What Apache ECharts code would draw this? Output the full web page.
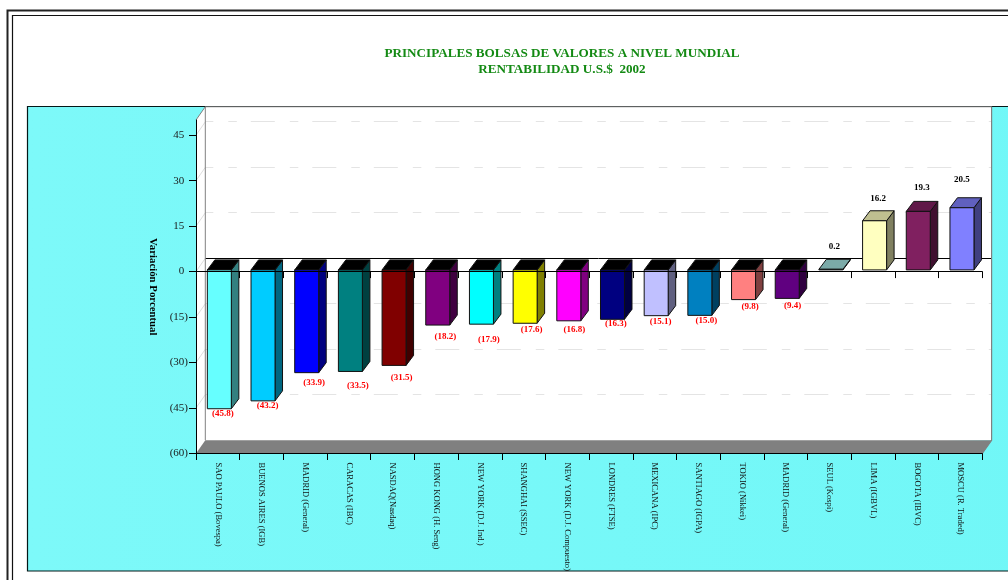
<!DOCTYPE html>
<html>
<head>
<meta charset="utf-8">
<style>html,body{margin:0;padding:0;background:#fff;overflow:hidden}#c{width:1008px;height:580px}</style>
<script src="https://cdn.jsdelivr.net/npm/echarts@6/dist/echarts.min.js"></script>
</head>
<body>
<div id="c"></div>
<script>
const categories = ['SAO PAULO (Bovespa)','BUENOS AIRES (IGB)','MADRID (General)','CARACAS (IBC)','NASDAQ(Nasdaq)','HONG KONG (H. Seng)','NEW YORK (D.J. Ind.)','SHANGHAI (SSEC)','NEW YORK (D.J. Compuesto)','LONDRES (FTSE)','MEXICANA (IPC)','SANTIAGO (IGPA)','TOKIO (Nikkei)','MADRID (General)','SEUL (Kospi)','LIMA (IGBVL)','BOGOTA (IBVC)','MOSCU (R. Traded)'];
const values = [-45.8,-43.2,-33.9,-33.5,-31.5,-18.2,-17.9,-17.6,-16.8,-16.3,-15.1,-15.0,-9.8,-9.4,0.2,16.2,19.3,20.5];
const barColors = ['#66FFFF','#00CCFF','#0000FF','#008080','#800000','#800080','#00FFFF','#FFFF00','#FF00FF','#000080','#C0C0FF','#0080C0','#FF8080','#600080','#A4E2E0','#FFFFC0','#802060','#8080FF'];
const yTicks = [-60,-45,-30,-15,0,15,30,45];
const labelShiftX = [5,6,9,9,9,9,9,8,7,5,6,8,8,7,5,5,5,1.5];
const labelShiftY = [3.5,3.4,8.6,12.8,10.9,10.2,14.1,5,7.4,2.9,4.5,3.8,5.6,5.8,-24,-23.6,-25,-29.6];

const DX = 9.3, DY = -13.3, BAR_W = 24, BAR_DX = 7.5, BAR_DY = -10, OFF_X = 1.5, OFF_Y = -1.7;
const SERIF = '"Liberation Serif","Times New Roman",serif';

function shade(hex, k) {
  const n = parseInt(hex.slice(1), 16);
  const c = [(n >> 16) & 255, (n >> 8) & 255, n & 255].map(v => Math.round(v * k));
  return 'rgb(' + c.join(',') + ')';
}
const fmt = v => v < 0 ? '(' + Math.abs(v).toFixed(1) + ')' : v.toFixed(1);

function renderWall(params, api) {
  const g = params.coordSys;
  const L = g.x, R = g.x + g.width, T = g.y, B = g.y + g.height;
  const kids = [];
  kids.push({type:'polygon', shape:{points:[[L,T],[L+DX,T+DY],[R+DX,T+DY],[R+DX,B+DY],[L,B]]}, style:{fill:'#fff'}});
  kids.push({type:'polygon', shape:{points:[[L+DX,B+DY],[R+DX,B+DY],[R,B],[L,B]]}, style:{fill:'#808080'}});
  yTicks.forEach(v => {
    if (v === -60) return;
    const y = api.coord([0, v])[1];
    const yb = Math.floor(y + DY) + 0.5;
    kids.push({type:'line', shape:{x1:L, y1:y, x2:L+DX, y2:y+DY}, style:{stroke:'#dddddd', lineWidth:1}});
    if (v === 0) {
      kids.push({type:'line', shape:{x1:L+DX, y1:yb, x2:R+DX, y2:yb}, style:{stroke:'#000', lineWidth:1}});
    } else {
      kids.push({type:'line', shape:{x1:L+DX, y1:yb, x2:R+DX, y2:yb}, style:{stroke:'#e4e4e4', lineWidth:1, lineDash:[24,15,8.5,14], lineDashOffset:16}});
    }
  });
  kids.push({type:'polyline', shape:{points:[[L,T],[L+DX,T+DY],[L+DX,B+DY]]}, style:{stroke:'#808080', fill:'none', lineWidth:1}});
  kids.push({type:'line', shape:{x1:L+DX, y1:T+DY, x2:R+DX, y2:T+DY}, style:{stroke:'#666', lineWidth:1}});
  kids.push({type:'polyline', shape:{points:[[R+DX,T+DY],[R+DX,B+DY],[R,B]]}, style:{stroke:'#808080', fill:'none', lineWidth:1.2}});
  return {type:'group', children:kids};
}

function renderBar(params, api) {
  const i = api.value(0), v = api.value(1);
  const base = api.coord([i, 0]), tip = api.coord([i, v]);
  const x0 = base[0] + OFF_X - BAR_W / 2, x1 = x0 + BAR_W;
  const yBase = base[1] + OFF_Y, yTip = tip[1] + OFF_Y;
  const top = Math.min(yBase, yTip), bot = Math.max(yBase, yTip);
  const col = barColors[i];
  const line = {stroke:'#111', lineWidth:1, lineJoin:'round'};
  const capFill = v < 0 ? '#000' : shade(col, 0.75);
  const kids = [
    {type:'polygon', shape:{points:[[x1,top],[x1+BAR_DX,top+BAR_DY],[x1+BAR_DX,bot+BAR_DY],[x1,bot]]}, style:Object.assign({fill:shade(col,0.5)}, line)},
    {type:'polygon', shape:{points:[[x0,top],[x0+BAR_DX,top+BAR_DY],[x1+BAR_DX,top+BAR_DY],[x1,top]]}, style:Object.assign({fill:capFill}, line)},
    {type:'rect', shape:{x:x0, y:top, width:BAR_W, height:bot-top}, style:Object.assign({fill:col}, line)},
    {type:'text', x:base[0]+labelShiftX[i], y:tip[1]+labelShiftY[i], style:{text:fmt(v), fill:v<0?'#ff0000':'#000', font:'bold 9px '+SERIF, align:'center', verticalAlign:'middle'}}
  ];
  return {type:'group', children:kids};
}

const chart = echarts.init(document.getElementById('c'), null, {renderer:'canvas'});
chart.setOption({
  animation:false,
  backgroundColor:'#fff',
  title:{
    text:'PRINCIPALES BOLSAS DE VALORES A NIVEL MUNDIAL\nRENTABILIDAD U.S.$  2002',
    left:557, top:41, textAlign:'center',
    textStyle:{color:'#148A14', fontFamily:SERIF, fontSize:13.15, fontWeight:'bold', lineHeight:16}
  },
  graphic:[
    {type:'rect', z:-5, shape:{x:7.5,y:10.5,width:1100,height:700}, style:{fill:'#fff',stroke:'#222',lineWidth:2}},
    {type:'rect', z:-4, shape:{x:12.5,y:15.5,width:1100,height:700}, style:{fill:'#fff',stroke:'#111',lineWidth:1.2}},
    {type:'rect', z:-3, shape:{x:27.5,y:106.5,width:1100,height:464.5},
      style:{stroke:'#041818',lineWidth:1.2,fill:new echarts.graphic.LinearGradient(0,0,1,0,[{offset:0,color:'#7DF9F9'},{offset:1,color:'#70F7F7'}])}}
  ],
  grid:{left:196, right:25.7, top:120, bottom:126.5, containLabel:false},
  xAxis:[
    {type:'category', data:categories, position:'bottom', z:4,
      axisLine:{onZero:false, lineStyle:{color:'#000',width:1}},
      axisTick:{show:true, interval:0, length:6.5, lineStyle:{color:'#000'}},
      axisLabel:{interval:0, rotate:-90, margin:9, color:'#111', fontFamily:SERIF, fontSize:8.55, hideOverlap:false},
      splitLine:{show:false}},
    {type:'category', data:categories, position:'bottom', z:4,
      axisLine:{onZero:true, lineStyle:{color:'#000',width:1}},
      axisTick:{show:true, interval:0, length:6.5, lineStyle:{color:'#000'}},
      axisLabel:{show:false, interval:0}, splitLine:{show:false}}
  ],
  yAxis:{
    type:'value', min:-60, max:50, z:4,
    name:'Variación Porcentual', nameLocation:'middle', nameRotate:-90, nameGap:33,
    nameTextStyle:{color:'#000', fontFamily:SERIF, fontSize:10.8, fontWeight:'bold'},
    axisLine:{show:true, onZero:false, lineStyle:{color:'#000',width:1}},
    axisTick:{show:true, length:7, customValues:yTicks, lineStyle:{color:'#000'}},
    axisLabel:{margin:8, color:'#1a1a1a', fontFamily:SERIF, fontSize:11, customValues:yTicks,
      formatter:v => v < 0 ? '(' + Math.abs(v) + ')' : v + '\u2004'},
    splitLine:{show:false}
  },
  series:[
    {type:'custom', z:1, silent:true, clip:false, coordinateSystem:'cartesian2d', data:[[0,0]], renderItem:renderWall},
    {type:'custom', z:3, clip:false, coordinateSystem:'cartesian2d', encode:{x:0,y:1},
      data:values.map((v,i)=>[i,v]), renderItem:renderBar}
  ]
});
</script>
</body>
</html>
